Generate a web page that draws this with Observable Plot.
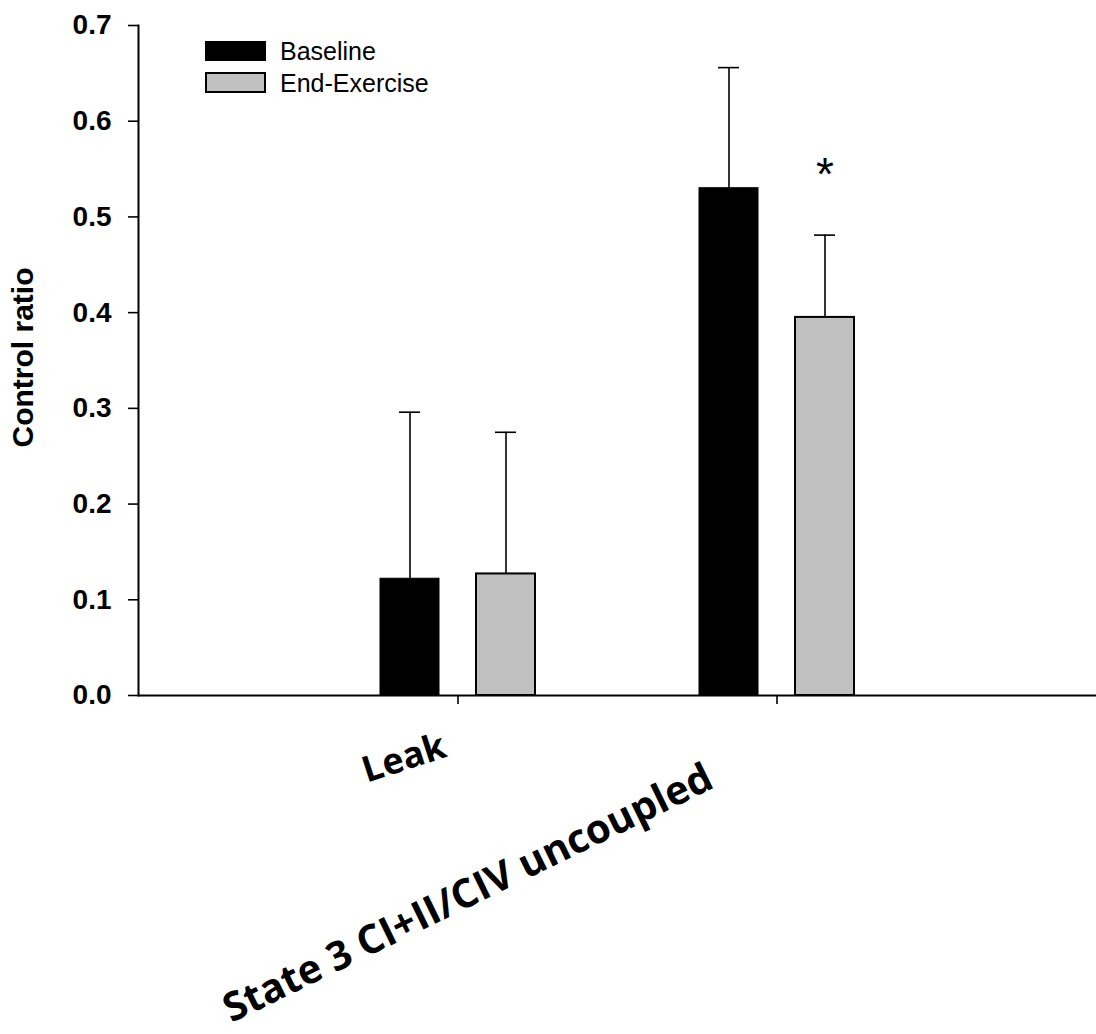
<!DOCTYPE html>
<html>
<head>
<meta charset="utf-8">
<script src="https://cdn.jsdelivr.net/npm/d3@7"></script>
<script src="https://cdn.jsdelivr.net/npm/@observablehq/plot@0.6"></script>
<style>
  html, body { margin: 0; padding: 0; background: #fff; }
  #wrap { position: relative; width: 1096px; height: 1034px; }
  .leg { position: absolute; font-family: "Liberation Sans", Arial, sans-serif; font-size: 25px; color: #000; }
  .box { position: absolute; box-sizing: border-box; border: 2px solid #000; }
</style>
</head>
<body>
<div id="wrap"></div>
<script>
// ---- data ----
const categories = ["Leak", "State 3 CI+II/CIV uncoupled"];
const series = ["Baseline", "End-Exercise"];
const baseline = [0.122, 0.530];
const baselineErr = [0.174, 0.126];
const endExercise = [0.127, 0.395];
const endExerciseErr = [0.148, 0.086];
const significance = ["", "*"];
const yTicks = [0, 0.1, 0.2, 0.3, 0.4, 0.5, 0.6, 0.7];
const yLabel = "Control ratio";
const seriesColors = ["#000000", "#c0c0c0"];

const rows = categories.map((c, i) => ({
  category: c,
  base: baseline[i],
  baseUp: baseline[i] + baselineErr[i],
  end: endExercise[i],
  endUp: endExercise[i] + endExerciseErr[i],
  sig: significance[i]
}));

const off = 48;
const font = "'Liberation Sans', Arial, sans-serif";
const catFont = "'Open Sans', 'Noto Sans', sans-serif";

const chart = Plot.plot({
  width: 1096,
  height: 1034,
  marginLeft: 138,
  marginRight: 0,
  marginTop: 25,
  marginBottom: 339,
  style: { fontFamily: font, background: "#fff", color: "#000", overflow: "visible" },
  x: { domain: categories, paddingInner: 0.816, paddingOuter: 0.905 },
  y: { domain: [0, 0.7] },
  marks: [
    Plot.barY(rows, { x: "category", y: "base", fill: seriesColors[0], stroke: "#000", strokeWidth: 1, dx: -off }),
    Plot.barY(rows, { x: "category", y: "end", fill: seriesColors[1], stroke: "#000", strokeWidth: 2, dx: off }),
    Plot.ruleX(rows, { x: "category", y1: "base", y2: "baseUp", dx: -off, strokeWidth: 1.6 }),
    Plot.tickY(rows, { x: "category", y: "baseUp", dx: -off, insetLeft: 19, insetRight: 19, strokeWidth: 1.6 }),
    Plot.ruleX(rows, { x: "category", y1: "end", y2: "endUp", dx: off, strokeWidth: 1.6 }),
    Plot.tickY(rows, { x: "category", y: "endUp", dx: off, insetLeft: 19, insetRight: 19, strokeWidth: 1.6 }),
    Plot.text(rows.filter(d => d.sig), { x: "category", y: "endUp", text: "sig", dx: off, dy: -60, fontSize: 46, fontFamily: font }),
    Plot.ruleY([0], { strokeWidth: 2 }),
    Plot.frame({ anchor: "left", strokeWidth: 2 }),
    Plot.axisY({ ticks: yTicks, tickSize: 10, tickPadding: 17, tickFormat: d3.format(".1f"), fontSize: 28, fontWeight: "bold", strokeWidth: 1.6, label: null }),
    Plot.axisX({ tickSize: 9, tickFormat: () => "", strokeWidth: 1.6, label: null }),
    Plot.text([yLabel], { frameAnchor: "left", text: d => d, textAnchor: "middle", rotate: -90, dx: -115, dy: -3, fontSize: 30, fontWeight: "bold", fontFamily: font }),
    Plot.text([categories[0]], { x: d => d, text: d => d, frameAnchor: "bottom", textAnchor: "middle", rotate: -18, dx: -54, dy: 63, fontSize: 36, fontWeight: "bold", fontFamily: catFont, lineAnchor: "middle" }),
    Plot.text([categories[1]], { x: d => d, text: d => d, frameAnchor: "bottom", textAnchor: "middle", rotate: -26, dx: -309, dy: 198, fontSize: 40, fontWeight: "bold", fontFamily: catFont, lineAnchor: "middle" })
  ]
});

const wrap = document.getElementById("wrap");
wrap.appendChild(chart);

// legend (inside the plot area, top-left)
const legendItems = series.map((s, i) => ({ label: s, color: seriesColors[i] }));
const legTop = [41, 72];
const legH = [20, 21];
legendItems.forEach((it, i) => {
  const b = document.createElement("div");
  b.className = "box";
  b.style.left = "205px";
  b.style.top = legTop[i] + "px";
  b.style.width = "61px";
  b.style.height = legH[i] + "px";
  b.style.background = it.color;
  wrap.appendChild(b);
  const t = document.createElement("div");
  t.className = "leg";
  t.style.left = "280px";
  t.style.top = (legTop[i] + legH[i] / 2 - 14) + "px";
  t.style.lineHeight = "28px";
  t.textContent = it.label;
  wrap.appendChild(t);
});
</script>
</body>
</html>
